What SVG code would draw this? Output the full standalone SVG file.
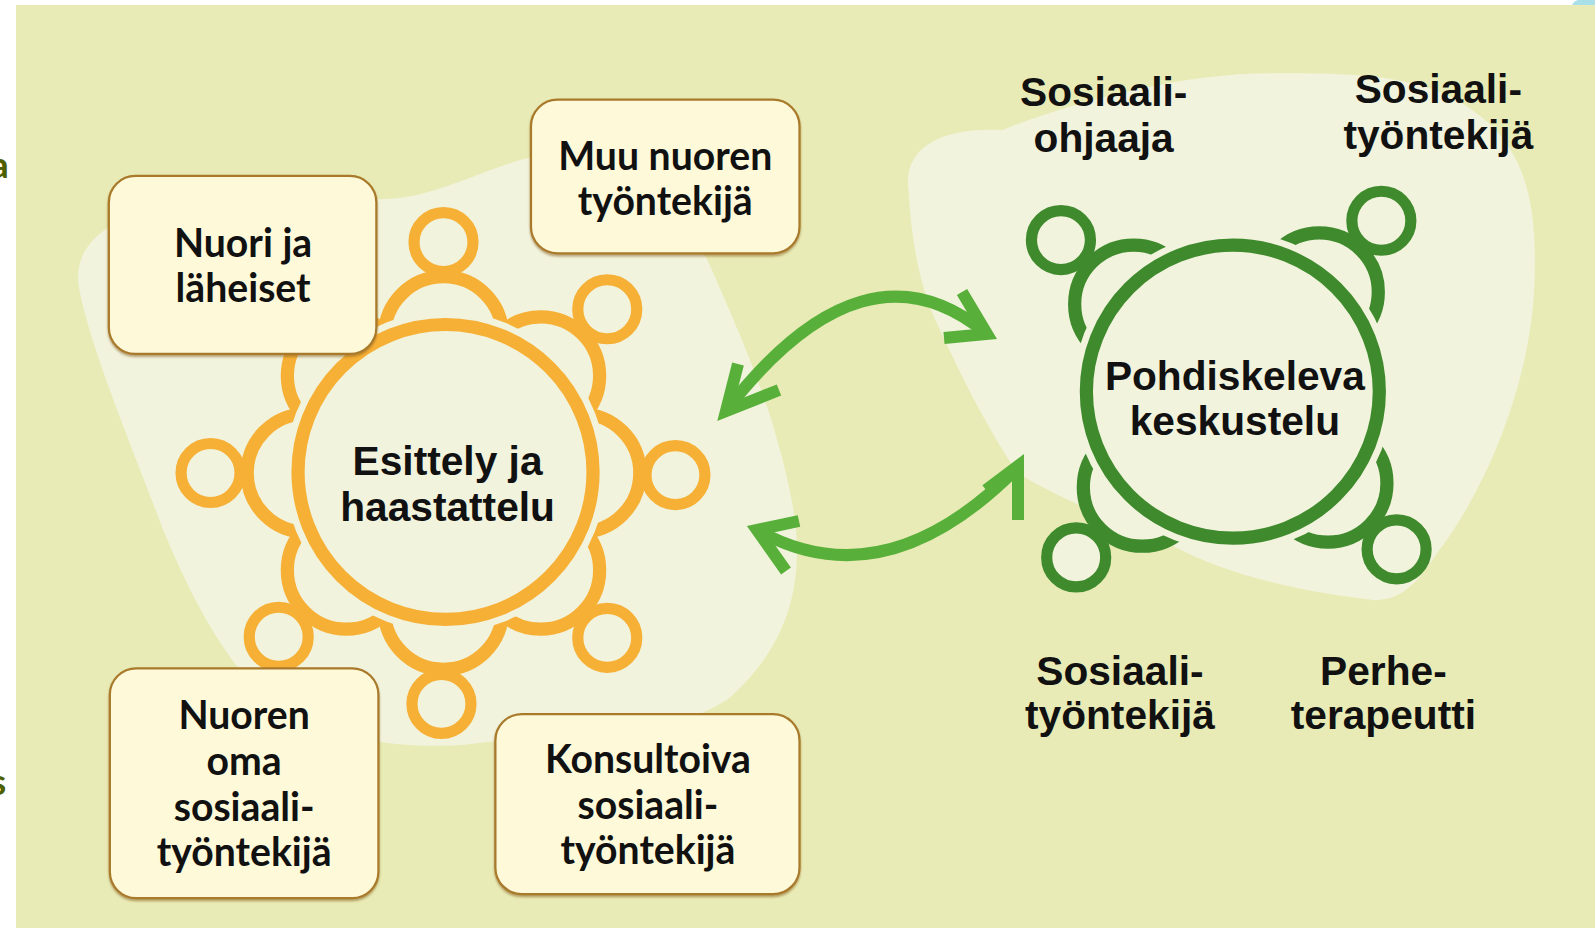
<svg xmlns="http://www.w3.org/2000/svg" width="1595" height="928" viewBox="0 0 1595 928">
<defs>
<filter id="sh" x="-5%" y="-5%" width="110%" height="115%">
<feDropShadow dx="0" dy="2" stdDeviation="0.8" flood-color="#8a6020" flood-opacity="0.55"/>
</filter>
</defs>
<style>
.panel{fill:#e8ebb5}
.blob{fill:#f1f3dd}
.box{fill:#fdf9d9;stroke:#a97a2c;stroke-width:2.2;filter:url(#sh)}
.boxtxt{font-family:Lato,"Open Sans","Liberation Sans",sans-serif;font-weight:700;font-size:38.5px;fill:#111;text-anchor:middle}
.lbl{font-family:"Liberation Sans",Arial,sans-serif;font-weight:700;font-size:40px;fill:#111;text-anchor:middle}
.halo{fill:#f1f3dd;stroke:#f1f3dd;stroke-width:26}
.o{fill:#f1f3dd;stroke:#f7b036;stroke-width:13}
.oh{fill:#f1f3dd;stroke:#f7b036;stroke-width:11}
.g{fill:#f1f3dd;stroke:#3f8a2c;stroke-width:13}
.gh{fill:#f1f3dd;stroke:#3f8a2c;stroke-width:11}
.arr{fill:none;stroke:#58b03a;stroke-width:12}
.head{fill:none;stroke:#58b03a;stroke-width:12;stroke-linejoin:miter;stroke-miterlimit:10}
.cut{font-family:Lato,"Liberation Sans",sans-serif;font-weight:700;font-size:37px;fill:#4e6000}
</style>
<rect x="0" y="0" width="1595" height="928" fill="#ffffff"/>
<path d="M1572,5 Q1574,1 1578,0 L1595,0 L1595,5 Z" fill="#a9dfe9"/>
<rect class="panel" x="16" y="5" width="1579" height="923"/>
<text class="cut" x="-10" y="178">a</text>
<text class="cut" x="-10" y="795">s</text>
<g transform="scale(1.0172)">
<path class="blob" d="M78,285 C70,245 100,222 140,208 C220,195 320,200 390,195 C450,188 500,150 560,150 C640,150 680,220 702,270 C730,335 760,400 778,490 C792,560 782,630 715,688 C640,735 540,720 460,732 C380,738 300,722 255,680 C215,640 185,580 160,520 C130,440 90,345 78,285 Z"/>
<path class="blob" d="M893,185 C888,140 935,125 985,128 C1055,100 1160,72 1250,72 C1330,72 1400,72 1450,110 C1505,150 1512,210 1508,290 C1502,380 1462,480 1412,545 C1392,575 1377,590 1352,590 C1290,583 1210,568 1150,535 C1100,512 1050,495 1000,465 C970,420 945,370 922,320 C903,280 896,235 893,185 Z"/>
</g>
<g id="connectors">
<path class="arr" d="M728,408 Q865,233 986,333"/>
<polyline class="head" points="738,364 726,411 779,390"/>
<polyline class="head" points="962,292 987,334 944,338"/>
<path class="arr" d="M757,530 Q885,602 1018,467"/>
<polyline class="head" points="799,521 757,530 786,571"/>
<polyline class="head" points="986,490 1018,466 1018,520"/>
</g>
<g transform="scale(1.0172)">
<g id="esittely">
<circle class="o" cx="436" cy="330" r="58"/>
<circle class="o" cx="531.5" cy="369.5" r="58"/>
<circle class="o" cx="571" cy="465" r="58"/>
<circle class="o" cx="531.5" cy="560.5" r="58"/>
<circle class="o" cx="436" cy="600" r="58"/>
<circle class="o" cx="340.5" cy="560.5" r="58"/>
<circle class="o" cx="301" cy="465" r="58"/>
<circle class="o" cx="340.5" cy="369.5" r="58"/>
<circle class="oh" cx="436" cy="238" r="29"/>
<circle class="oh" cx="597" cy="304" r="29"/>
<circle class="oh" cx="664" cy="467" r="29"/>
<circle class="oh" cx="597" cy="627" r="29"/>
<circle class="oh" cx="434" cy="692" r="29"/>
<circle class="oh" cx="274" cy="626" r="29"/>
<circle class="oh" cx="207" cy="465" r="29"/>
<circle class="oh" cx="275" cy="304" r="29"/>
<circle class="halo" cx="438" cy="464" r="145"/>
<circle class="o" cx="438" cy="464" r="145"/>
<text class="lbl" x="440" y="467" font-size="41.5">Esittely ja</text>
<text class="lbl" x="440" y="512" font-size="41.5">haastattelu</text>
</g>
<g id="pohdiskeleva">
<circle class="g" cx="1114.5" cy="299" r="58"/>
<circle class="g" cx="1297" cy="287" r="58"/>
<circle class="g" cx="1123" cy="479" r="58"/>
<circle class="g" cx="1305.5" cy="475" r="58"/>
<circle class="gh" cx="1043" cy="236" r="29"/>
<circle class="gh" cx="1358" cy="217" r="29"/>
<circle class="gh" cx="1058" cy="548" r="29"/>
<circle class="gh" cx="1373" cy="540" r="29"/>
<circle class="halo" cx="1212" cy="385" r="144"/>
<circle class="g" cx="1212" cy="385" r="144"/>
<text class="lbl" x="1214" y="383">Pohdiskeleva</text>
<text class="lbl" x="1214" y="428">keskustelu</text>
</g>
<g id="box-nuori">
<rect class="box" x="107" y="173" width="263" height="175" rx="26"/>
<text class="boxtxt" x="239" y="253">Nuori ja</text>
<text class="boxtxt" x="239" y="297">läheiset</text>
</g>
<g id="box-muu">
<rect class="box" x="522" y="98" width="264" height="151" rx="26"/>
<text class="boxtxt" x="654" y="167">Muu nuoren</text>
<text class="boxtxt" x="654" y="211">työntekijä</text>
</g>
<g id="box-oma">
<rect class="box" x="108" y="657" width="264" height="226" rx="26"/>
<text class="boxtxt" x="240" y="717">Nuoren</text>
<text class="boxtxt" x="240" y="762">oma</text>
<text class="boxtxt" x="240" y="807">sosiaali-</text>
<text class="boxtxt" x="240" y="851">työntekijä</text>
</g>
<g id="box-konsultoiva">
<rect class="box" x="487" y="702" width="299" height="177" rx="26"/>
<text class="boxtxt" x="637" y="760">Konsultoiva</text>
<text class="boxtxt" x="637" y="805">sosiaali-</text>
<text class="boxtxt" x="637" y="849">työntekijä</text>
</g>
<g id="label-ohjaaja">
<text class="lbl" x="1085" y="104">Sosiaali-</text>
<text class="lbl" x="1085" y="149">ohjaaja</text>
</g>
<g id="label-tyontekija-top">
<text class="lbl" x="1414" y="101">Sosiaali-</text>
<text class="lbl" x="1414" y="146">työntekijä</text>
</g>
<g id="label-tyontekija-bottom">
<text class="lbl" x="1101" y="673">Sosiaali-</text>
<text class="lbl" x="1101" y="717">työntekijä</text>
</g>
<g id="label-perhe">
<text class="lbl" x="1360" y="673">Perhe-</text>
<text class="lbl" x="1360" y="717">terapeutti</text>
</g>
</g>
</svg>
